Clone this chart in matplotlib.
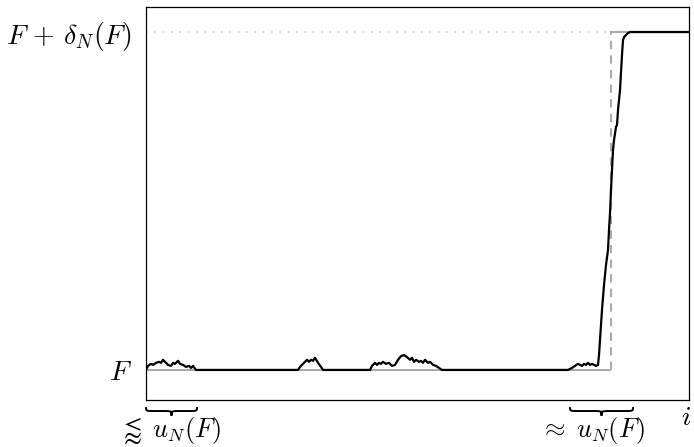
import matplotlib
matplotlib.use("Agg")
import matplotlib.pyplot as plt
from matplotlib.path import Path
from matplotlib.patches import PathPatch
import matplotlib.transforms as mtransforms

plt.rcParams['mathtext.fontset'] = 'cm'
plt.rcParams['font.family'] = 'DejaVu Serif'

# sample path: index i and value (F -> 0, F + delta_N(F) -> 1)
idx = [0, 2, 5, 7, 10, 13, 15, 17, 20, 22, 25, 27, 29, 32, 34, 37, 40, 43, 45, 47, 50,
       152, 154, 157, 159, 161, 163, 165, 167, 169, 172, 175, 177,
       224, 226, 229, 231, 233, 235, 237, 240, 243, 246, 249, 252, 255, 258, 261, 264,
       266, 268, 270, 273, 275, 277, 279, 282, 284, 287, 290, 293, 296,
       422, 426, 429, 432, 434, 436, 438, 440, 442, 444, 446, 448, 450, 452,
       453, 454, 456, 458, 460, 462, 463, 464, 465, 466, 467, 468, 470, 471, 472,
       474, 476, 477, 478, 480, 482, 484, 543]
vals = [0, .012, .018, .015, .021, .024, .021, .030, .021, .015, .012, .021, .018, .027,
        .018, .015, .009, .012, .006, .012, 0,
        0, .009, .018, .024, .030, .024, .030, .027, .036, .021, .009, 0,
        0, .012, .021, .015, .021, .018, .024, .018, .021, .012, .015, .030, .041, .044,
        .038, .030, .036, .024, .030, .024, .027, .021, .030, .021, .024, .015, .012,
        .006, 0,
        0, .006, .012, .018, .015, .012, .018, .015, .021, .015, .018, .015, .012, .015,
        .044, .089, .178, .251, .311, .355, .414, .464, .533, .592, .651, .680, .719,
        .725, .769, .828, .932, .976, .985, .991, .997, 1.0, 1.0]

i_max = 543
i_jump = 465          # location of the ideal step
brace_spans = [(0, 51), (424, 487)]
brace_labels = [r'$\lessapprox\; u_N(F)$', r'$\approx\; u_N(F)$']
label_centers = [24, 446]

fig = plt.figure(figsize=(6.94, 4.47), dpi=100)
ax = fig.add_axes([0.2104, 0.1051, 0.7824, 0.8792])

gray = '#aaaaaa'
ax.plot([0, i_jump], [0, 0], color=gray, lw=1.5, solid_capstyle='butt')
ax.plot([i_jump, i_jump], [0, 1], color=gray, lw=1.5, ls=(0, (4, 3)))
ax.plot([i_jump, i_max], [1, 1], color=gray, lw=1.5)
ax.plot([0, i_jump], [1, 1], color='#c8c8c8', lw=1.2, ls=(0, (1, 4)))

ax.plot(idx, vals, color='black', lw=1.6)

ax.set_xlim(0, i_max)
ax.set_ylim(-0.089, 1.074)
ax.set_xticks([])
ax.set_yticks([0, 1])
ax.set_yticklabels(['$F$', r'$F\,+\,\delta_N(F)$'], fontsize=20)
ax.tick_params(axis='y', length=0, pad=10)
for sp in ax.spines.values():
    sp.set_linewidth(0.9)
    sp.set_color('black')

# curly braces below the axis
trans = mtransforms.blended_transform_factory(ax.transData, ax.transAxes)
y_end, y_mid, y_tip = -0.018, -0.028, -0.040
r = 8
for (x0, x1), lab, xc in zip(brace_spans, brace_labels, label_centers):
    xm = (x0 + x1) / 2
    verts = [(x0, y_end), (x0, y_mid), (x0, y_mid), (x0 + r, y_mid),
             (xm - r, y_mid),
             (xm, y_mid), (xm, y_mid), (xm, y_tip),
             (xm, y_mid), (xm, y_mid), (xm + r, y_mid),
             (x1 - r, y_mid),
             (x1, y_mid), (x1, y_mid), (x1, y_end)]
    codes = [Path.MOVETO, Path.CURVE4, Path.CURVE4, Path.CURVE4,
             Path.LINETO,
             Path.CURVE4, Path.CURVE4, Path.CURVE4,
             Path.CURVE4, Path.CURVE4, Path.CURVE4,
             Path.LINETO,
             Path.CURVE4, Path.CURVE4, Path.CURVE4]
    ax.add_patch(PathPatch(Path(verts, codes), fill=False, lw=1.4,
                           edgecolor='black', transform=trans, clip_on=False))
    ax.text(xc, -0.094, lab, transform=trans, ha='center', va='baseline', fontsize=19)

ax.text(0.995, -0.045, '$i$', transform=ax.transAxes, ha='center', va='center', fontsize=20)

fig.savefig('out.png', dpi=100)
